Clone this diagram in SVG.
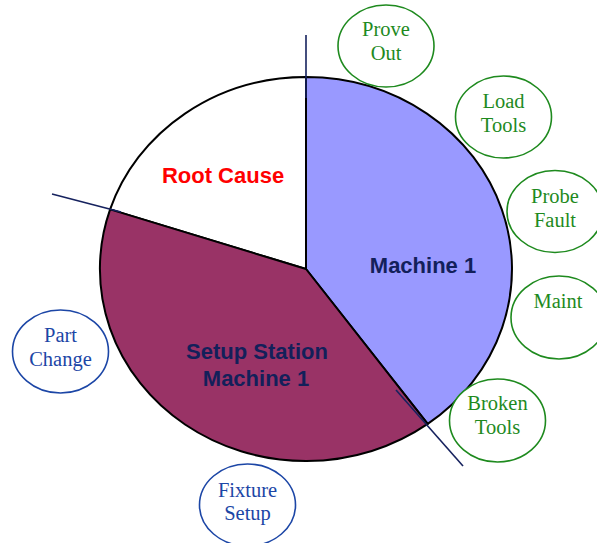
<svg xmlns="http://www.w3.org/2000/svg" width="597" height="543" viewBox="0 0 597 543">
<style>
.slice{stroke:#000;stroke-width:2;stroke-linejoin:round}
.lbl{font-family:"Liberation Sans",Arial,sans-serif;font-weight:bold;font-size:22px;text-anchor:middle}
.g{fill:#fff;stroke:#1E8A1E;stroke-width:1.6}
.b{fill:#fff;stroke:#1C46A6;stroke-width:1.6}
.gt{font-family:"Liberation Serif","Times New Roman",serif;font-size:20.5px;fill:#1E8A1E;text-anchor:middle}
.bt{font-family:"Liberation Serif","Times New Roman",serif;font-size:20.5px;fill:#1C46A6;text-anchor:middle}
.div{stroke:#16225E;stroke-width:1.6;fill:none}
</style>
<rect width="597" height="543" fill="#fff"/>
<g id="pie">
<path id="slice-root" class="slice" fill="#fff" d="M306,269 L110.1,209.4 A206,192 0 0,1 306,77 Z"/>
<path id="slice-machine" class="slice" fill="#9999FF" d="M306,269 L306,77 A206,192 0 0,1 427.7,423.9 Z"/>
<path id="slice-setup" class="slice" fill="#993366" d="M306,269 L427.7,423.9 A206,192 0 0,1 110.1,209.4 Z"/>
<text class="lbl" x="223" y="183" fill="#FF0000">Root Cause</text>
<text class="lbl" x="423" y="273" fill="#13205A">Machine 1</text>
<text class="lbl" x="257" y="359" fill="#13205A">Setup Station</text>
<text class="lbl" x="256" y="386" fill="#13205A">Machine 1</text>
</g>
<g id="connectors">
<line class="div" x1="306" y1="35" x2="306" y2="98"/>
<line class="div" x1="52" y1="194" x2="121" y2="212"/>
<line class="div" x1="396" y1="390" x2="463" y2="466"/>
</g>
<g id="prove-out"><ellipse class="g" cx="386" cy="46" rx="48" ry="41"/><text class="gt" x="386" y="36">Prove</text><text class="gt" x="386" y="60">Out</text></g>
<g id="load-tools"><ellipse class="g" cx="503.5" cy="117" rx="48" ry="41"/><text class="gt" x="503.5" y="108">Load</text><text class="gt" x="503.5" y="132">Tools</text></g>
<g id="probe-fault"><ellipse class="g" cx="555" cy="211.5" rx="48" ry="41"/><text class="gt" x="555" y="203">Probe</text><text class="gt" x="555" y="227">Fault</text></g>
<g id="maint"><ellipse class="g" cx="559" cy="317.5" rx="48" ry="41.5"/><text class="gt" x="558" y="308">Maint</text></g>
<g id="broken-tools"><ellipse class="g" cx="497.5" cy="420.5" rx="48" ry="41.5"/><text class="gt" x="497.5" y="410">Broken</text><text class="gt" x="497.5" y="434">Tools</text></g>
<g id="part-change"><ellipse class="b" cx="60.5" cy="351.5" rx="48" ry="41.5"/><text class="bt" x="60.5" y="342">Part</text><text class="bt" x="60.5" y="366">Change</text></g>
<g id="fixture-setup"><ellipse class="b" cx="247.5" cy="505" rx="48" ry="41"/><text class="bt" x="247.5" y="497">Fixture</text><text class="bt" x="247.5" y="520">Setup</text></g>
</svg>
